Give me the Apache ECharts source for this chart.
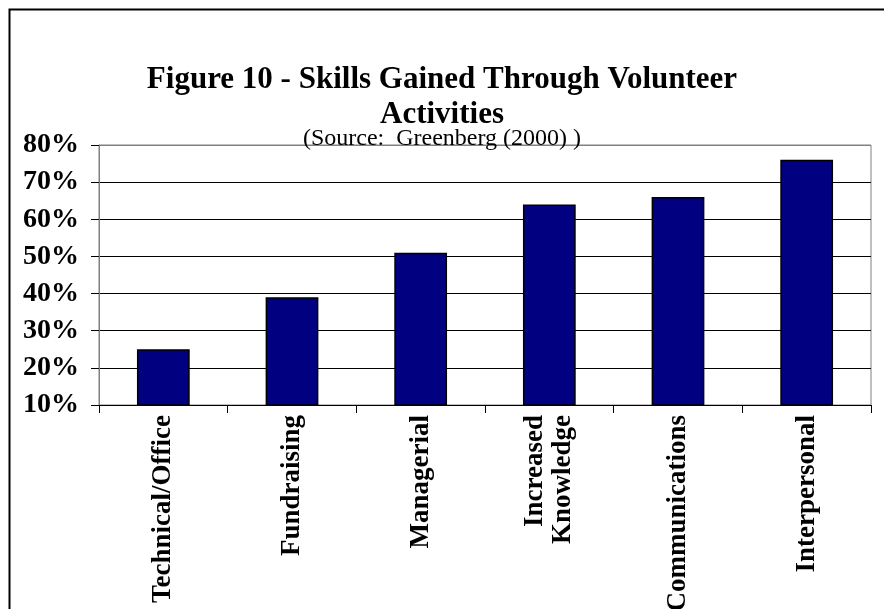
<!DOCTYPE html>
<html>
<head>
<meta charset="utf-8">
<style>
  html, body { margin: 0; padding: 0; background: #fff; }
  #chart { width: 884px; height: 609px; }
</style>
<script src="https://cdn.jsdelivr.net/npm/echarts@6/dist/echarts.min.js"></script>
</head>
<body>
<div id="chart"></div>
<script>
var categories = ['Technical/Office', 'Fundraising', 'Managerial', 'Increased\nKnowledge', 'Communications', 'Interpersonal'];
var values = [25, 39, 51, 64, 66, 76];
var titleLines = ['Figure 10 - Skills Gained Through Volunteer', 'Activities'];
var subtitleText = '(Source:  Greenberg (2000) )';

var chart = echarts.init(document.getElementById('chart'), null, { renderer: 'canvas' });
var serif = '"Liberation Serif", "DejaVu Serif", serif';

chart.setOption({
  backgroundColor: '#ffffff',
  animation: false,
  title: [
    {
      text: titleLines.join('\n'),
      left: 'center',
      top: 57,
      textStyle: { fontFamily: serif, fontWeight: 'bold', fontSize: 31, color: '#000', lineHeight: 35 }
    },
    {
      text: subtitleText,
      left: 'center',
      top: 122,
      textStyle: { fontFamily: serif, fontWeight: 'normal', fontSize: 24, color: '#000' }
    }
  ],
  graphic: [
    {
      type: 'rect',
      shape: { x: 9.5, y: 9.5, width: 1000, height: 1000 },
      style: { fill: 'none', stroke: '#000', lineWidth: 2 },
      silent: true,
      z: 100
    }
  ],
  grid: {
    left: 99, right: 13, top: 145, bottom: 204,
    containLabel: false,
    outerBoundsMode: 'none',
    show: true, borderColor: '#808080', borderWidth: 1
  },
  xAxis: {
    type: 'category',
    data: categories,
    axisLine: { lineStyle: { color: '#000', width: 1 } },
    axisTick: { show: true, alignWithLabel: false, length: 8, lineStyle: { color: '#000' } },
    axisLabel: {
      rotate: 90, interval: 0, margin: 10,
      fontFamily: serif, fontWeight: 'bold', fontSize: 27, color: '#000', lineHeight: 28
    },
    splitLine: { show: false }
  },
  yAxis: {
    type: 'value',
    min: 10, max: 80, interval: 10,
    axisLine: { show: true, lineStyle: { color: '#808080', width: 1 } },
    axisTick: { show: true, length: 8, lineStyle: { color: '#000' } },
    axisLabel: {
      formatter: '{value}%', margin: 20,
      fontFamily: serif, fontWeight: 'bold', fontSize: 28, color: '#000'
    },
    splitLine: { show: true, lineStyle: { color: ['#000', '#000', '#000', '#000', '#000', '#000', '#000', '#808080'], width: 1 } }
  },
  series: [
    {
      type: 'bar',
      data: values,
      barWidth: '41%',
      itemStyle: { color: '#000080', borderColor: '#000', borderWidth: 1.5 }
    }
  ]
});
</script>
</body>
</html>
